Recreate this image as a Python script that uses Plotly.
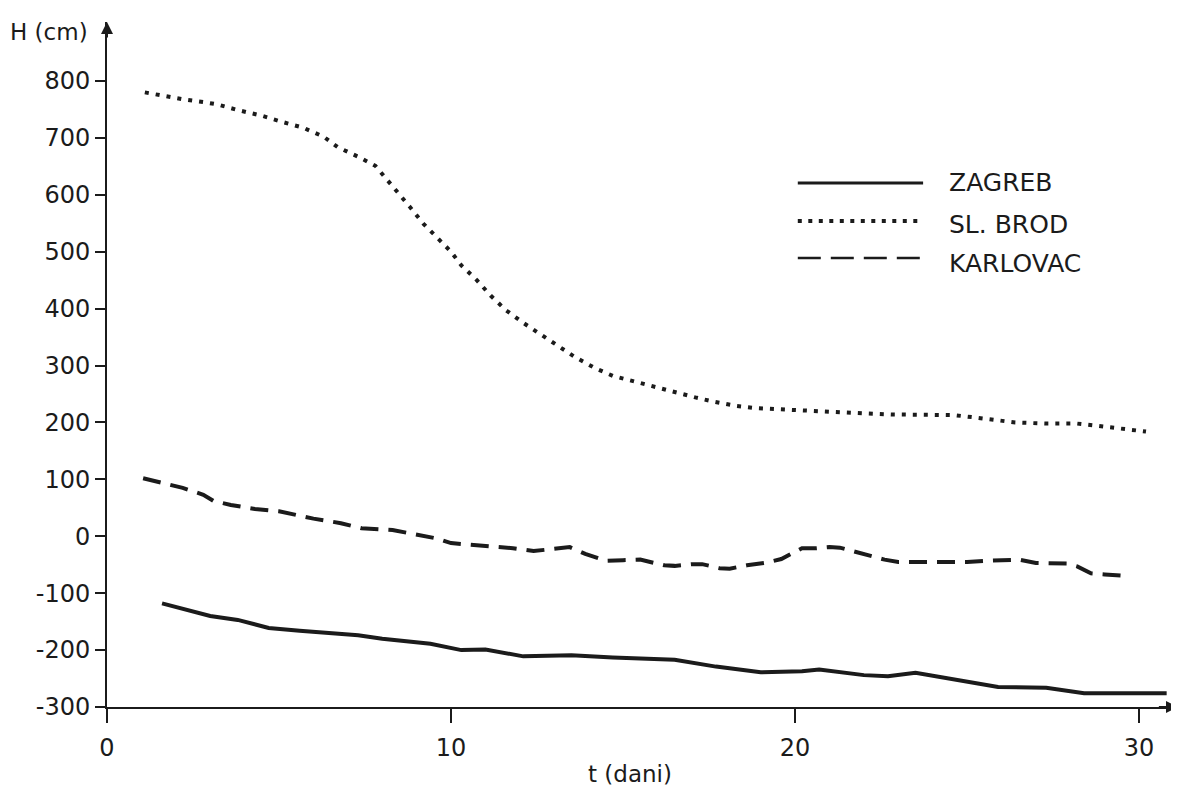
import plotly.graph_objects as go

# ---- data ----
zagreb_t = [1.6, 3.0, 3.8, 4.7, 5.6, 7.3, 8.0, 9.4, 10.3, 11.0, 12.1, 13.5, 14.7, 16.5,
            17.7, 19.0, 20.2, 20.7, 22.0, 22.7, 23.5, 24.7, 25.9, 27.3, 28.4, 30.8]
zagreb_h = [-118, -140, -147, -161, -166, -174, -180, -189, -200, -199, -211, -209, -213, -217,
            -229, -239, -237, -234, -244, -246, -240, -253, -265, -266, -276, -276]

brod_t = [1.1, 1.6, 2.2, 2.8, 3.2, 3.8, 4.5, 5.1, 5.7, 6.3, 6.7, 7.3, 7.8, 8.05, 8.5, 8.8,
          9.2, 9.6, 10.0, 10.3, 10.75, 11.15, 11.6, 12.1, 12.6, 13.1, 13.6, 14.2, 14.7, 15.25,
          15.9, 16.5, 17.1, 17.6, 18.3, 18.9, 19.5, 20.2, 21.1, 22.0, 22.8, 23.75, 24.6, 25.2,
          25.8, 26.4, 27.3, 28.2, 28.8, 29.3, 29.9, 30.2]
brod_h = [780, 774, 768, 763, 759, 749, 739, 728, 718, 702, 684, 667, 651, 633, 602, 579,
          549, 525, 500, 476, 450, 423, 397, 375, 356, 335, 315, 295, 282, 273,
          264, 253, 244, 237, 229, 225, 223, 221, 219, 216, 214, 214, 213, 209,
          205, 200, 198, 198, 194, 191, 186, 184]

karl_t = [1.05, 1.6, 2.0, 2.2, 2.8, 3.1, 3.6, 4.3, 5.0, 5.4, 6.0, 6.8, 7.4, 8.3, 9.1, 9.6,
          10.0, 10.6, 11.3, 11.8, 12.4, 12.9, 13.45, 13.9, 14.5, 15.0, 15.5, 16.2, 16.5, 17.0,
          17.3, 17.8, 18.1, 18.6, 19.2, 19.6, 20.2, 20.6, 21.0, 21.3, 21.8, 22.1, 22.6, 23.0,
          24.0, 25.0, 25.6, 26.1, 26.5, 27.0, 27.9, 28.2, 28.6, 29.0, 29.75]
karl_h = [102, 94, 88, 85, 73, 62, 55, 48, 44, 39, 31, 23, 14, 11, 2, -4,
          -12, -15, -18, -21, -26, -22, -19, -31, -43, -42, -41, -51, -52, -49,
          -49, -56, -57, -51, -46, -40, -21, -21, -19, -20, -28, -32, -41, -45,
          -45, -45, -43, -41, -41, -47, -48, -53, -65, -67, -70]

series_names = ["ZAGREB", "SL. BROD", "KARLOVAC"]
x_ticks = [0, 10, 20, 30]
y_ticks = [-300, -200, -100, 0, 100, 200, 300, 400, 500, 600, 700, 800]

INK = "#1b1b1b"
FONT = "DejaVu Sans"

fig = go.Figure()
fig.add_trace(go.Scatter(x=zagreb_t, y=zagreb_h, mode="lines", name=series_names[0],
                         line=dict(color=INK, width=4), showlegend=False))
fig.add_trace(go.Scatter(x=brod_t, y=brod_h, mode="lines", name=series_names[1],
                         line=dict(color=INK, width=4, dash="4px,7px"), showlegend=False))
fig.add_trace(go.Scatter(x=karl_t, y=karl_h, mode="lines", name=series_names[2],
                         line=dict(color=INK, width=4, dash="18px,10px"), showlegend=False))

X_MAX = 31.13
Y_MIN, Y_MAX = -300, 903.7

# the page body adds an 8px offset, so the figure is 8px smaller than the window
fig.update_layout(
    width=1171, height=784,
    margin=dict(l=99, r=1, t=14, b=85),
    paper_bgcolor="white", plot_bgcolor="white",
    font=dict(family=FONT, size=24, color=INK),
    xaxis=dict(range=[0, X_MAX], tickvals=x_ticks, ticktext=[str(v) for v in x_ticks],
               showgrid=False, zeroline=False, showline=True, linecolor=INK, linewidth=2,
               ticks="outside", ticklen=14, tickwidth=2, tickcolor=INK,
               ticklabelstandoff=4,
               tickfont=dict(family=FONT, size=24, color=INK)),
    yaxis=dict(range=[Y_MIN, Y_MAX], tickvals=y_ticks, ticktext=[str(v) for v in y_ticks],
               showgrid=False, zeroline=False, showline=True, linecolor=INK, linewidth=2,
               ticks="outside", ticklen=10, tickwidth=2, tickcolor=INK,
               tickfont=dict(family=FONT, size=24, color=INK)),
)

# axis arrows
fig.add_annotation(x=X_MAX, y=Y_MIN, ax=X_MAX - 0.6, ay=Y_MIN, xref="x", yref="y",
                   axref="x", ayref="y", text="", showarrow=True, arrowhead=2,
                   arrowsize=1.2, arrowwidth=2, arrowcolor=INK)
fig.add_annotation(x=0, y=Y_MAX, ax=0, ay=Y_MAX - 30, xref="x", yref="y",
                   axref="x", ayref="y", text="", showarrow=True, arrowhead=2,
                   arrowsize=1.2, arrowwidth=2, arrowcolor=INK)

# axis titles
fig.add_annotation(x=-0.016, y=0.985, xref="paper", yref="paper", xanchor="right",
                   yanchor="middle", text="H (cm)", showarrow=False,
                   font=dict(family=FONT, size=23, color=INK))
fig.add_annotation(x=15.2, y=-0.098, xref="x", yref="paper", xanchor="center",
                   yanchor="middle", text="t (dani)", showarrow=False,
                   font=dict(family=FONT, size=23, color=INK))

# legend (drawn manually, as in the reference)
leg_x0, leg_x1 = 0.645, 0.762
leg_line_y = [0.765, 0.7095, 0.6555]
leg_text_y = [0.765, 0.705, 0.648]
leg_styles = [dict(color=INK, width=3, dash="solid"),
              dict(color=INK, width=4, dash="4px,6.5px"),
              dict(color=INK, width=2.5, dash="23px,10px")]
for name, ly, ty, st in zip(series_names, leg_line_y, leg_text_y, leg_styles):
    fig.add_shape(type="line", xref="paper", yref="paper", x0=leg_x0, x1=leg_x1,
                  y0=ly, y1=ly, line=st)
    fig.add_annotation(x=0.784, y=ty, xref="paper", yref="paper", xanchor="left",
                       yanchor="middle", text=name, showarrow=False,
                       font=dict(family=FONT, size=25, color=INK))

fig.write_html("out.html")
